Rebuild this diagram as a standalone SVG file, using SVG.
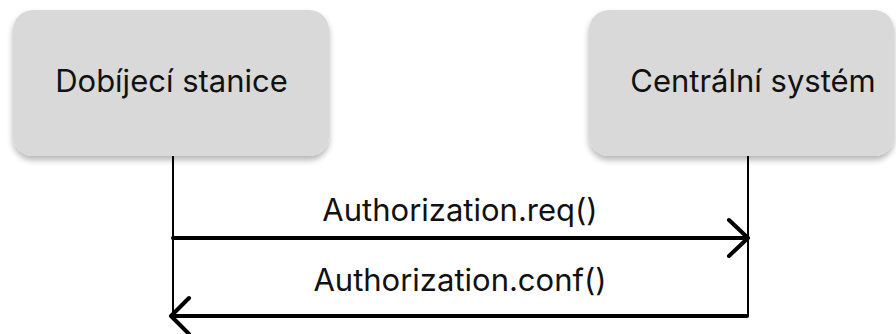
<svg xmlns="http://www.w3.org/2000/svg" width="896" height="334" viewBox="0 0 896 334">
<defs>
<filter id="sh" x="-10%" y="-10%" width="120%" height="130%">
<feGaussianBlur in="SourceAlpha" stdDeviation="3"/>
<feOffset dy="4" result="b"/>
<feComponentTransfer><feFuncA type="linear" slope="0.3"/></feComponentTransfer>
<feMerge><feMergeNode/><feMergeNode in="SourceGraphic"/></feMerge>
</filter>
</defs>
<style>
.box{fill:#d9d9d9;filter:url(#sh)}
.lbl{font-family:Inter,"Liberation Sans",sans-serif;font-size:31px;fill:#111;text-anchor:middle}
.life{stroke:#000;stroke-width:2;fill:none}
.msg{stroke:#000;stroke-width:4;fill:none;stroke-linecap:round;stroke-linejoin:round}
</style>
<g id="connectors">
<line class="life" x1="173" y1="156" x2="173" y2="316"/>
<line class="life" x1="748" y1="156" x2="748" y2="316"/>
<line class="msg" x1="173" y1="238" x2="747" y2="238"/>
<polyline class="msg" points="729,220 748,238 729,256"/>
<polyline class="msg" points="747,316 172,316"/>
<polyline class="msg" points="189,298 171,316 189,334"/>
<text class="lbl" x="460" y="221">Authorization.req()</text>
<text class="lbl" x="460" y="291">Authorization.conf()</text>
</g>
<g id="node-dobijeci">
<rect class="box" x="13" y="10" width="316" height="146" rx="20"/>
<text class="lbl" x="171.5" y="92">Dobíjecí stanice</text>
</g>
<g id="node-centralni">
<rect class="box" x="589" y="10" width="305" height="146" rx="20"/>
<text class="lbl" x="753" y="92">Centrální systém</text>
</g>
</svg>
